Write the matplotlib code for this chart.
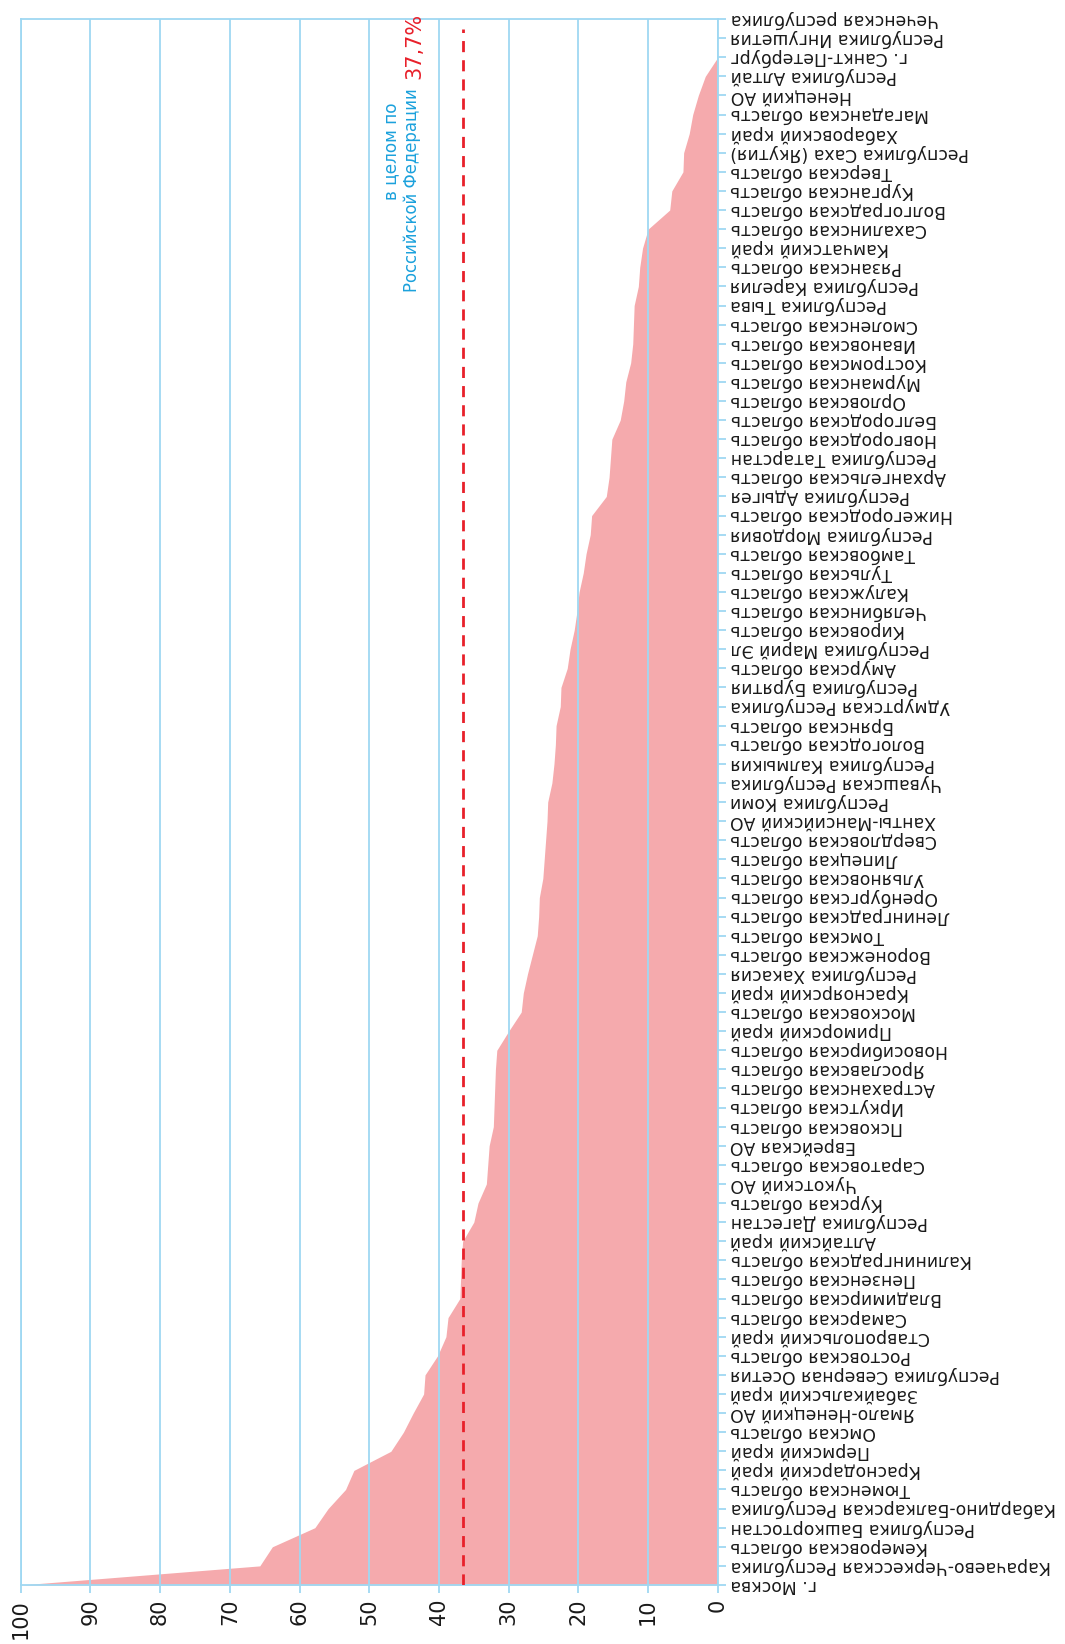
import matplotlib
matplotlib.use('Agg')
import matplotlib.pyplot as plt
import numpy as np

# Data: regions listed from top of picture (0) to bottom (100)
regions = [
    'Чеченская республика', 'Республика Ингушетия', 'г. Санкт-Петербург',
    'Республика Алтай', 'Ненецкий АО', 'Магаданская область',
    'Хабаровский край', 'Республика Саха (Якутия)', 'Тверская область',
    'Курганская область', 'Волгоградская область', 'Сахалинская область',
    'Камчатский край', 'Рязанская область', 'Республика Карелия',
    'Республика Тыва', 'Смоленская область', 'Ивановская область',
    'Костромская область', 'Мурманская область', 'Орловская область',
    'Белгородская область', 'Новгородская область', 'Республика Татарстан',
    'Архангельская область', 'Республика Адыгея', 'Нижегородская область',
    'Республика Мордовия', 'Тамбовская область', 'Тульская область',
    'Калужская область', 'Челябинская область', 'Кировская область',
    'Республика Марий Эл', 'Амурская область', 'Республика Бурятия',
    'Удмуртская Республика', 'Брянская область', 'Вологодская область',
    'Республика Калмыкия', 'Чувашская Республика', 'Республика Коми',
    'Ханты-Мансийский АО', 'Свердловская область', 'Липецкая область',
    'Ульяновская область', 'Оренбургская область', 'Ленинградская область',
    'Томская область', 'Воронежская область', 'Республика Хакасия',
    'Красноярский край', 'Московская область', 'Приморский край',
    'Новосибирская область', 'Ярославская область', 'Астраханская область',
    'Иркутская область', 'Псковская область', 'Еврейская АО',
    'Саратовская область', 'Чукотский АО', 'Курская область',
    'Республика Дагестан', 'Алтайский край', 'Калининградская область',
    'Пензенская область', 'Владимирская область', 'Самарская область',
    'Ставропольский край', 'Ростовская область', 'Республика Северная Осетия',
    'Забайкальский край', 'Ямало-Ненецкий АО', 'Омская область',
    'Пермский край', 'Краснодарский край', 'Тюменская область',
    'Кабардино-Балкарская Республика', 'Республика Башкортостан',
    'Кемеровская область', 'Карачаево-Черкесская Республика', 'г. Москва',
]
values = [
    0.0, 0.0, 0.0, 1.8, 2.8, 3.6, 4.1, 4.9, 5.0, 6.6, 6.9, 10.0, 10.8, 11.2,
    11.4, 12.0, 12.1, 12.2, 12.5, 13.2, 13.5, 14.0, 15.2, 15.4, 15.6, 16.0,
    18.1, 18.3, 18.9, 19.3, 19.9, 20.2, 20.6, 21.2, 21.6, 22.5, 22.6, 23.2,
    23.3, 23.5, 23.8, 24.4, 24.5, 24.7, 24.9, 25.1, 25.6, 25.7, 25.9, 26.6,
    27.3, 27.9, 28.2, 30.0, 31.7, 31.9, 32.0, 32.1, 32.2, 32.8, 33.0, 33.2,
    34.4, 35.0, 36.6, 36.8, 36.9, 37.0, 38.7, 39.0, 40.2, 42.0, 42.2, 43.7,
    45.1, 46.9, 52.2, 53.4, 55.9, 57.8, 63.9, 65.7, 100.0,
]
rf_line = 36.6
x_ticks = [100, 90, 80, 70, 60, 50, 40, 30, 20, 10, 0]

GRID = '#9fd8f2'
PINK = '#f5aaad'
RED = '#e8202a'
BLUE = '#1ba1dc'
INK = '#1a1a1a'

fig = plt.figure(figsize=(10.65, 16.44), dpi=100)
ax = fig.add_axes([0.0194, 0.0359, 0.6546, 0.9525])

n = len(regions)
ypos = np.arange(n)[::-1]

ax.fill_betweenx(ypos, 0, values, color=PINK, linewidth=0, zorder=1)
for x in x_ticks:
    ax.axvline(x, color=GRID, linewidth=1.3, zorder=2)
ax.plot([rf_line, rf_line], [0, n - 1.5], color=RED, linewidth=2.0,
        linestyle=(0, (4.0, 2.9)), zorder=3)

ax.set_xlim(100, 0)
ax.set_ylim(0, n - 1)

ax.set_xticks(x_ticks)
ax.set_xticklabels([str(v) for v in x_ticks], rotation=90, fontsize=15,
                   color=INK, va='top')
ax.set_yticks(ypos)
ax.set_yticklabels(regions, rotation=180, fontsize=12.4, color=INK,
                   va='center', ha='left')
ax.yaxis.tick_right()
ax.tick_params(axis='x', length=6, width=1.3, color=GRID, pad=4)
ax.tick_params(axis='y', length=6, width=1.3, color=GRID, pad=3)
for s in ax.spines.values():
    s.set_color(GRID)
    s.set_linewidth(1.3)

# annotation for the all-Russia level
ax.text(46.8, 77.64, 'в целом по', rotation=90, fontsize=12.2,
        color=BLUE, ha='center', va='top')
ax.text(43.9, 78.38, 'Российской Федерации', rotation=90,
        fontsize=11.9, color=BLUE, ha='center', va='top')
ax.text(43.5, 82.3, '37,7%', rotation=90, fontsize=15,
        color=RED, ha='center', va='top', clip_on=False)

fig.savefig('out.png', dpi=100, facecolor='white')
plt.close()
